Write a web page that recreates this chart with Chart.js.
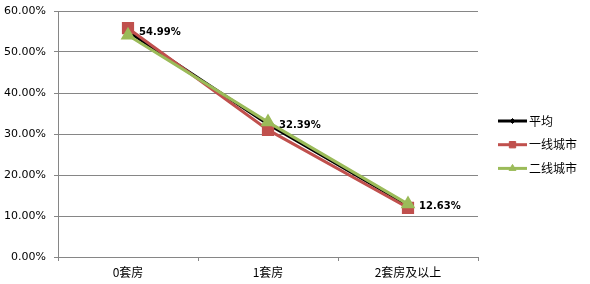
<!DOCTYPE html>
<html>
<head>
<meta charset="utf-8">
<script src="https://cdn.jsdelivr.net/npm/chart.js@4/dist/chart.umd.min.js"></script>
<style>
  html, body { margin: 0; padding: 0; background: #fff; }
  #wrap { width: 590px; height: 284px; }
</style>
</head>
<body>
<div id="wrap"><canvas id="houseChart" width="590" height="284"></canvas></div>
<script>
// categories and series (percent)
const categories = ['0套房', '1套房', '2套房及以上'];
const avgValues = [54.99, 32.39, 12.63];
const tier1Values = [55.8, 31.0, 12.0];
const tier2Values = [54.1, 32.9, 12.9];
const yTicks = [0, 10, 20, 30, 40, 50, 60];

const numFont = '"DejaVu Sans", "Noto Sans CJK SC", sans-serif';
const cjkFont = '"Noto Sans CJK SC", "DejaVu Sans", sans-serif';

// data labels for the average series
const avgLabels = {
    id: 'avgLabels',
    afterDatasetsDraw(chart) {
        const ctx = chart.ctx;
        const meta = chart.getDatasetMeta(0);
        ctx.save();
        ctx.font = 'bold 10px ' + numFont;
        ctx.fillStyle = '#000';
        ctx.textBaseline = 'middle';
        meta.data.forEach((pt, i) => {
            ctx.fillText(avgValues[i].toFixed(2) + '%', pt.x + 11, pt.y + 1);
        });
        ctx.restore();
    }
};

// legend drawn on the right, Excel style (line with marker)
const sideLegend = {
    id: 'sideLegend',
    afterDraw(chart) {
        const ctx = chart.ctx;
        const items = chart.data.datasets;
        ctx.save();
        items.forEach((ds, i) => {
            const y = 121 + i * 23.7;
            const x0 = 498, x1 = 527;
            ctx.strokeStyle = ds.borderColor;
            ctx.lineWidth = 3;
            ctx.beginPath();
            ctx.moveTo(x0, y);
            ctx.lineTo(x1, y);
            ctx.stroke();
            ctx.fillStyle = ds.pointBackgroundColor;
            ctx.strokeStyle = ds.borderColor;
            ctx.lineWidth = 1;
            Chart.helpers.drawPoint(ctx, {
                pointStyle: ds.pointStyle,
                radius: ds.legendRadius,
                rotation: 0,
                borderWidth: 1
            }, (x0 + x1) / 2, y);
            ctx.font = '12px ' + cjkFont;
            ctx.fillStyle = '#000';
            ctx.textBaseline = 'middle';
            ctx.fillText(ds.label, x1 + 2, y);
        });
        ctx.restore();
    }
};

const ctx = document.getElementById('houseChart').getContext('2d');
const houseChart = new Chart(ctx, {
    type: 'line',
    data: {
        labels: categories,
        datasets: [
            {
                label: '平均',
                data: avgValues,
                borderColor: '#000000',
                backgroundColor: '#000000',
                pointBackgroundColor: '#000000',
                pointStyle: 'rectRot',
                pointRadius: 3,
                legendRadius: 2.5,
                borderWidth: 3,
                order: 2
            },
            {
                label: '一线城市',
                data: tier1Values,
                borderColor: '#C0504D',
                backgroundColor: '#C0504D',
                pointBackgroundColor: '#C0504D',
                pointStyle: 'rect',
                pointRadius: 6.5,
                legendRadius: 4.5,
                borderWidth: 3,
                order: 1
            },
            {
                label: '二线城市',
                data: tier2Values,
                borderColor: '#9BBB59',
                backgroundColor: '#9BBB59',
                pointBackgroundColor: '#9BBB59',
                pointStyle: 'triangle',
                pointRadius: 5.5,
                legendRadius: 4,
                borderWidth: 3,
                order: 0
            }
        ]
    },
    options: {
        responsive: false,
        animation: false,
        layout: { padding: { top: 11, right: 112, left: 0, bottom: 0 } },
        plugins: {
            legend: { display: false },
            tooltip: { enabled: false }
        },
        elements: { line: { tension: 0 } },
        scales: {
            x: {
                offset: true,
                afterFit(scale) { scale.height = 27; },
                grid: {
                    offset: true,
                    drawOnChartArea: false,
                    tickLength: 4,
                    color: '#868686'
                },
                border: { color: '#868686', width: 1 },
                ticks: {
                    color: '#000',
                    padding: 4,
                    font: { family: cjkFont, size: 12 }
                }
            },
            y: {
                min: 0,
                max: 60,
                afterFit(scale) {
                    scale.width = 58;
                    scale.paddingTop = 0;
                    scale.paddingBottom = 0;
                },
                afterBuildTicks(scale) {
                    scale.ticks = yTicks.map(v => ({ value: v }));
                },
                grid: {
                    color: '#868686',
                    tickLength: 4,
                    drawTicks: true
                },
                border: { color: '#868686', width: 1 },
                ticks: {
                    color: '#000',
                    padding: 8,
                    font: { family: numFont, size: 11 },
                    callback: v => v.toFixed(2) + '%'
                }
            }
        }
    },
    plugins: [avgLabels, sideLegend]
});
</script>
</body>
</html>
